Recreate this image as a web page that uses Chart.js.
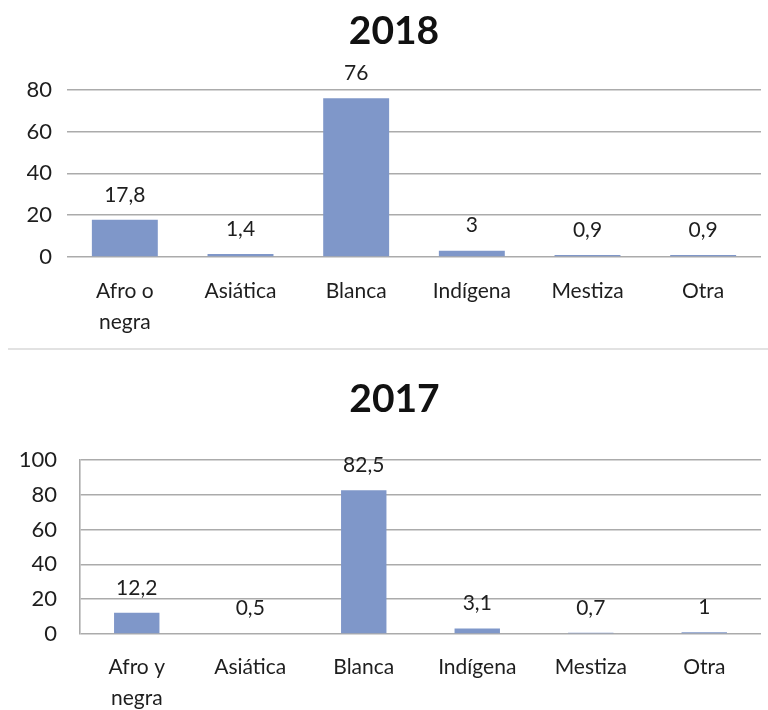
<!DOCTYPE html>
<html lang="es">
<head>
<meta charset="UTF-8">
<title>Población por etnia 2018 / 2017</title>
<script src="https://cdn.jsdelivr.net/npm/chart.js"></script>
<style>
    body {
        margin: 0;
        padding: 0;
        background: #fff;
        width: 768px;
        height: 710px;
        overflow: hidden;
        position: relative;
        font-family: Lato, sans-serif;
    }
    .box {
        position: absolute;
        left: 0;
        width: 768px;
    }
    #top { top: 0; height: 348px; }
    #bottom { top: 352px; height: 358px; }
    .sep {
        position: absolute;
        left: 8px;
        right: 0;
        top: 348px;
        height: 2px;
        background: #e2e2e2;
    }
</style>
</head>
<body>
<div class="box" id="top"><canvas id="c2018" width="768" height="348"></canvas></div>
<div class="sep"></div>
<div class="box" id="bottom"><canvas id="c2017" width="768" height="358"></canvas></div>

<script>
// datos
const labels2018 = [['Afro o', 'negra'], 'Asiática', 'Blanca', 'Indígena', 'Mestiza', 'Otra'];
const values2018 = [17.8, 1.4, 76, 3, 0.9, 0.9];
const labels2017 = [['Afro y', 'negra'], 'Asiática', 'Blanca', 'Indígena', 'Mestiza', 'Otra'];
const values2017 = [12.2, 0.5, 82.5, 3.1, 0.7, 1];
const ticks2018 = [0, 20, 40, 60, 80];
const ticks2017 = [0, 20, 40, 60, 80, 100];

const barColor = '#7f97c9';
const textColor = '#1e1e1e';
const gridColor = '#ababab';

// etiquetas de valor encima de cada barra
const valueLabels = {
    id: 'valueLabels',
    afterDatasetsDraw(chart) {
        const ctx = chart.ctx;
        const meta = chart.getDatasetMeta(0);
        const data = chart.data.datasets[0].data;
        ctx.save();
        ctx.font = '21px Lato, sans-serif';
        ctx.fillStyle = textColor;
        ctx.textAlign = 'center';
        ctx.textBaseline = 'middle';
        meta.data.forEach((bar, i) => {
            ctx.fillText(String(data[i]).replace('.', ','), bar.x, bar.y - 25);
        });
        ctx.restore();
    }
};

// mueve el titulo un poco a la derecha
const titleShift = {
    id: 'titleShift',
    afterLayout(chart, args, opts) {
        const t = chart.titleBlock;
        if (t && opts.dx) {
            t.left += opts.dx;
            t.right += opts.dx;
        }
    }
};

function makeChart(id, title, labels, values, ticks, opts) {
    const yMax = ticks[ticks.length - 1];
    return new Chart(document.getElementById(id), {
        type: 'bar',
        data: {
            labels: labels,
            datasets: [{
                data: values,
                backgroundColor: barColor,
                barPercentage: opts.barPct,
                categoryPercentage: 1
            }]
        },
        options: {
            responsive: false,
            animation: false,
            events: [],
            layout: { padding: { left: opts.padLeft, right: 7, top: 0, bottom: 0 } },
            plugins: {
                legend: { display: false },
                tooltip: { enabled: false },
                titleShift: { dx: opts.titleDx },
                title: {
                    display: true,
                    text: title,
                    color: '#111',
                    font: { family: 'Lato, sans-serif', size: 39, weight: 'bold' },
                    padding: { top: opts.titleTop, bottom: opts.titleBottom }
                }
            },
            scales: {
                x: {
                    grid: { display: false },
                    border: { display: false },
                    ticks: {
                        color: textColor,
                        font: { family: 'Lato, sans-serif', size: 21, lineHeight: 1.5 },
                        padding: opts.xPad,
                        maxRotation: 0,
                        autoSkip: false
                    },
                    afterFit(scale) { scale.height = opts.xHeight; }
                },
                y: {
                    min: 0,
                    max: yMax,
                    afterBuildTicks(scale) { scale.ticks = ticks.map(v => ({ value: v })); },
                    grid: { color: gridColor, lineWidth: 1.6, drawTicks: false },
                    border: { display: opts.yBorder, color: gridColor, width: 1.6 },
                    ticks: {
                        color: textColor,
                        font: { family: 'Lato, sans-serif', size: 22 },
                        padding: opts.tickPad
                    },
                    afterFit(scale) { scale.width = opts.yWidth; }
                }
            }
        },
        plugins: [valueLabels, titleShift]
    });
}

makeChart('c2018', '2018', labels2018, values2018, ticks2018, {
    barPct: 0.57, padLeft: 27, titleDx: 0, titleTop: 8, titleBottom: 35, xHeight: 91, xPad: 10,
    yWidth: 40, tickPad: 15, yBorder: false
});

makeChart('c2017', '2017', labels2017, values2017, ticks2017, {
    barPct: 0.4, padLeft: 14, titleDx: 7, titleTop: 24, titleBottom: 37, xHeight: 76, xPad: 9,
    yWidth: 66, tickPad: 23, yBorder: true
});
</script>
</body>
</html>
